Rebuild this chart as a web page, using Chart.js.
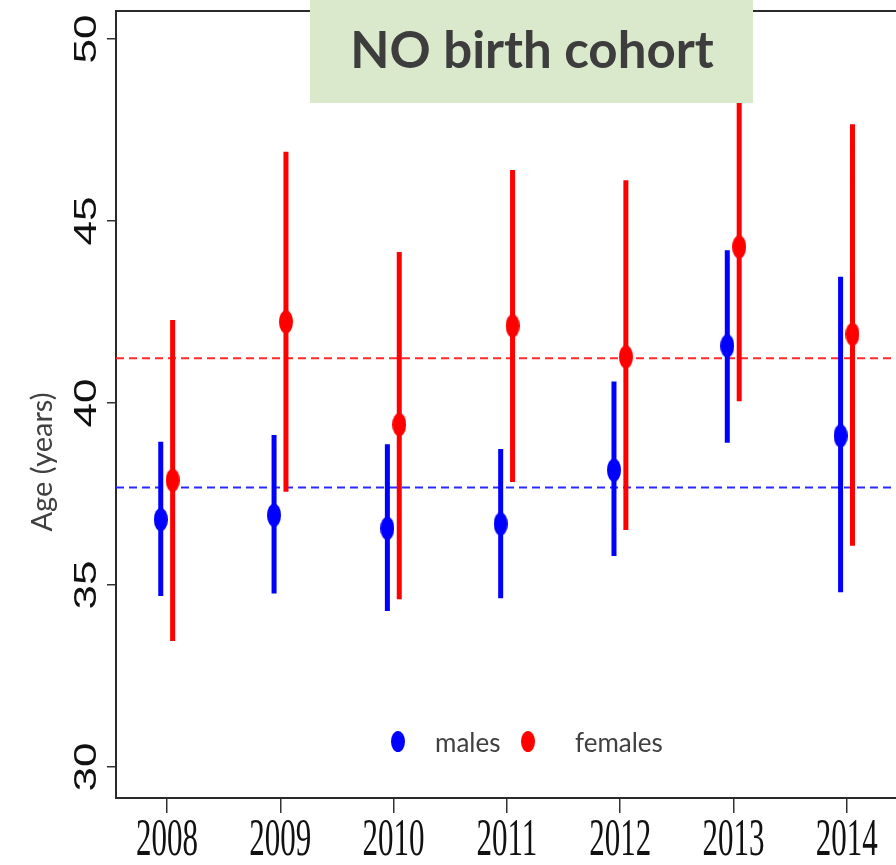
<!DOCTYPE html>
<html>
<head>
<meta charset="utf-8">
<script src="https://cdn.jsdelivr.net/npm/chart.js@4/dist/chart.umd.min.js"></script>
<style>
  html, body { margin: 0; padding: 0; background: #fff; }
  canvas { display: block; }
</style>
</head>
<body>
<canvas id="ageChart" width="896" height="865"></canvas>
<script>
// ===== Data =====
const years = [2008, 2009, 2010, 2011, 2012, 2013, 2014];
const yTicks = [30, 35, 40, 45, 50];

const malesMean = [36.80, 36.92, 36.56, 36.68, 38.16, 41.57, 39.10];
const malesLow  = [34.70, 34.77, 34.29, 34.64, 35.80, 38.91, 34.80];
const malesHigh = [38.94, 39.12, 38.87, 38.74, 40.59, 44.20, 43.47];

const femalesMean = [37.88, 42.23, 39.41, 42.12, 41.27, 44.29, 41.89];
const femalesLow  = [33.46, 37.56, 34.61, 37.83, 36.51, 40.05, 36.08];
const femalesHigh = [42.28, 46.90, 44.15, 46.40, 46.12, 48.60, 47.66];

const malesAvg = 37.68;
const femalesAvg = 41.23;

const titleText = "NO birth cohort";
const yTitle = "Age (years)";
const legendLabels = ["males", "females"];

// ===== Layout =====
const X_MIN = 2007.55, X_MAX = 2014.434;
const Y_MIN = 29.15, Y_MAX = 50.77;
const OFF_M = -0.055, OFF_F = 0.05;
const BLUE = "#0000ff", RED = "#ff0000";

// stretched dot like the reference markers
function makeDot(color, w, h) {
    const c = document.createElement("canvas");
    c.width = w; c.height = h;
    const g = c.getContext("2d");
    g.fillStyle = color;
    g.beginPath();
    g.ellipse(w / 2, h / 2, w / 2, h / 2, 0, 0, Math.PI * 2);
    g.fill();
    return c;
}
const blueDot = makeDot(BLUE, 14, 23);
const redDot = makeDot(RED, 14, 23);

// vertical interval segments, broken by nulls
function segments(offset, low, high) {
    const pts = [];
    years.forEach((yr, i) => {
        pts.push({ x: yr + offset, y: low[i] });
        pts.push({ x: yr + offset, y: high[i] });
        pts.push({ x: yr + offset, y: null });
    });
    return pts;
}
function points(offset, vals) {
    return years.map((yr, i) => ({ x: yr + offset, y: vals[i] }));
}

// ===== Extra drawing: frame, tick labels, title box, legend =====
const decorPlugin = {
    id: "decor",
    afterDraw(chart) {
        const ctx = chart.ctx;
        const a = chart.chartArea;
        const xs = chart.scales.x, ys = chart.scales.y;

        // top frame line
        ctx.save();
        ctx.strokeStyle = "#2a2a2a";
        ctx.lineWidth = 2;
        ctx.beginPath();
        ctx.moveTo(a.left, a.top);
        ctx.lineTo(a.right + 10, a.top);
        ctx.stroke();

        // y tick labels (rotated, stretched)
        ctx.fillStyle = "#111";
        ctx.font = '32px "Liberation Sans", Arial, sans-serif';
        ctx.textAlign = "center";
        ctx.textBaseline = "alphabetic";
        ys.ticks.forEach(t => {
            const py = ys.getPixelForValue(t.value);
            ctx.save();
            ctx.translate(96, py);
            ctx.rotate(-Math.PI / 2);
            ctx.scale(1.38, 1);
            ctx.fillText(String(t.value), 0, 0);
            ctx.restore();
        });

        // x tick labels (serif, stretched)
        ctx.font = '31px "Liberation Serif", "Times New Roman", serif';
        xs.ticks.forEach(t => {
            const px = xs.getPixelForValue(t.value);
            ctx.save();
            ctx.translate(px, 855);
            ctx.scale(1, 1.67);
            ctx.fillText(String(t.value), 0, 0);
            ctx.restore();
        });

        // y axis title
        ctx.fillStyle = "#404040";
        ctx.font = '29px Lato, "Open Sans", sans-serif';
        ctx.save();
        ctx.translate(52, 462);
        ctx.rotate(-Math.PI / 2);
        ctx.fillText(yTitle, 0, 0);
        ctx.restore();

        // legend inside plot
        ctx.drawImage(blueDot, 398 - 7, 742 - 11, 14, 21);
        ctx.drawImage(redDot, 528 - 7, 742 - 11, 14, 21);
        ctx.textAlign = "left";
        ctx.font = '26px Lato, "Open Sans", sans-serif';
        ctx.fillText(legendLabels[0], 435, 752);
        ctx.fillText(legendLabels[1], 575, 752);

        // title box
        ctx.fillStyle = "#dae8cb";
        ctx.fillRect(310, 0, 443, 103);
        ctx.fillStyle = "#3d3d3d";
        ctx.textAlign = "center";
        ctx.font = 'bold 51px Lato, "Open Sans", sans-serif';
        ctx.fillText(titleText, 532, 68, 372);
        ctx.restore();
    }
};

const ctx = document.getElementById("ageChart").getContext("2d");

new Chart(ctx, {
    type: "line",
    data: {
        datasets: [
            {
                label: "females",
                data: points(OFF_F, femalesMean),
                showLine: false,
                pointStyle: redDot,
                order: 1
            },
            {
                label: "females CI",
                data: segments(OFF_F, femalesLow, femalesHigh),
                borderColor: RED,
                borderWidth: 5,
                pointRadius: 0,
                spanGaps: false,
                order: 2
            },
            {
                label: "males",
                data: points(OFF_M, malesMean),
                showLine: false,
                pointStyle: blueDot,
                order: 3
            },
            {
                label: "males CI",
                data: segments(OFF_M, malesLow, malesHigh),
                borderColor: BLUE,
                borderWidth: 5,
                pointRadius: 0,
                spanGaps: false,
                order: 4
            },
            {
                label: "females mean",
                data: [{ x: X_MIN, y: femalesAvg }, { x: X_MAX, y: femalesAvg }],
                borderColor: "#ff2a2a",
                borderWidth: 2,
                borderDash: [8, 5],
                pointRadius: 0,
                order: 10
            },
            {
                label: "males mean",
                data: [{ x: X_MIN, y: malesAvg }, { x: X_MAX, y: malesAvg }],
                borderColor: "#2a2aff",
                borderWidth: 2,
                borderDash: [8, 5],
                pointRadius: 0,
                order: 10
            }
        ]
    },
    options: {
        responsive: false,
        animation: false,
        devicePixelRatio: 1,
        layout: { autoPadding: false, padding: { top: 11, right: 0, left: 0, bottom: 0 } },
        plugins: {
            legend: { display: false },
            tooltip: { enabled: false }
        },
        scales: {
            x: {
                type: "linear",
                min: X_MIN,
                max: X_MAX,
                afterBuildTicks: s => { s.ticks = years.map(v => ({ value: v })); },
                afterFit: s => { s.height = 67; },
                ticks: { display: false },
                grid: { drawOnChartArea: false, drawTicks: true, tickLength: 15, color: "#333", lineWidth: 1.5 },
                border: { display: true, color: "#2a2a2a", width: 2 }
            },
            y: {
                type: "linear",
                min: Y_MIN,
                max: Y_MAX,
                afterBuildTicks: s => { s.ticks = yTicks.map(v => ({ value: v })); },
                afterFit: s => { s.width = 116; },
                ticks: { display: false },
                grid: { drawOnChartArea: false, drawTicks: true, tickLength: 9, color: "#333", lineWidth: 1.5 },
                border: { display: true, color: "#2a2a2a", width: 2 }
            }
        }
    },
    plugins: [decorPlugin]
});
</script>
</body>
</html>
